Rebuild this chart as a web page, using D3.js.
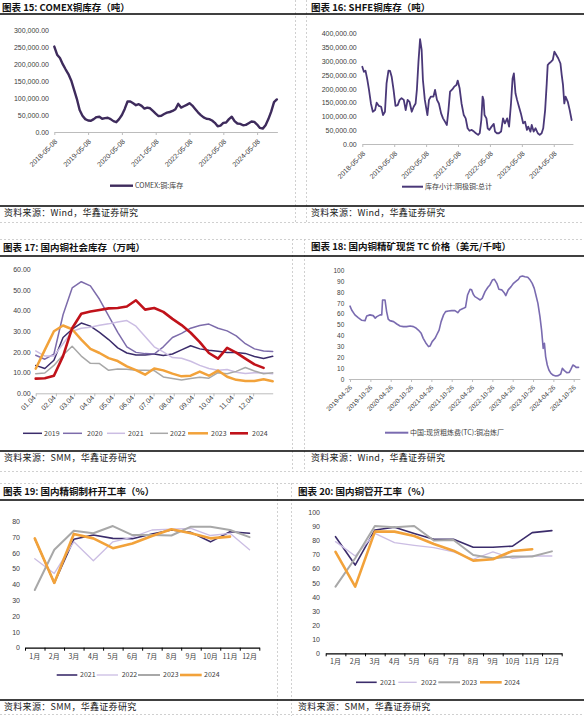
<!DOCTYPE html>
<html><head><meta charset="utf-8">
<script src="https://cdn.jsdelivr.net/npm/d3@7"></script>
<style>body{margin:0;background:#fff}svg{display:block}</style>
</head><body><svg id="c" width="584" height="716"></svg>
<script>
// ================= DATA =================
// 图表15 COMEX 铜库存 (monthly from 2018-05)
const comexTickLabels=["2018-05-08","2019-05-08","2020-05-08","2021-05-08","2022-05-08","2023-05-08","2024-05-08"];
const comexStock=[252000,228000,218000,200000,185000,171000,152000,125000,98000,65000,48000,38000,
 34000,33000,38000,44000,45000,39000,41000,42000,38000,32000,29000,38000,
 50000,68000,90000,90000,85000,79000,82000,77000,69000,72000,70000,62000,
 54000,47000,48000,53000,57000,59000,62000,67000,83000,72000,76000,80000,
 85000,78000,68000,58000,50000,43000,39000,38000,34000,27000,17000,19000,
 27000,28000,38000,45000,32000,25000,24000,20000,21000,26000,31000,30000,
 22000,12000,10000,20000,38000,60000,88000,96000];
// 图表16 SHFE 铜库存 : years since 2018-05-08, tonnes
const shfeTickLabels=["2018-05-08","2019-05-08","2020-05-08","2021-05-08","2022-05-08","2023-05-08","2024-05-08"];
const shfeYears=[0,.05,.10,.16,.21,.27,.33,.40,.45,.52,
 .59,.65,.71,.76,.82,.87,.92,.98,1.04,1.11,
 1.17,1.23,1.30,1.36,1.42,1.48,1.55,1.61,1.67,1.71,
 1.76,1.81,1.86,1.90,1.96,2.04,2.09,2.15,2.23,2.28,
 2.34,2.40,2.47,2.53,2.59,2.65,2.70,2.75,2.82,2.88,
 2.95,2.99,3.05,3.11,3.18,3.24,3.30,3.36,3.43,3.50,
 3.56,3.63,3.68,3.73,3.77,3.80,3.83,3.89,3.93,3.98,
 4.05,4.12,4.16,4.22,4.28,4.35,4.41,4.47,4.54,4.60,
 4.66,4.71,4.75,4.80,4.85,4.91,4.97,5.04,5.10,5.16,
 5.20,5.27,5.31,5.37,5.43,5.50,5.56,5.62,5.67,5.73,
 5.78,5.81,5.85,5.91,5.97,6.02,6.08,6.14,6.21,6.25,
 6.29,6.33,6.37,6.44,6.50,6.56];
const shfeStock=[280000,262000,266000,232000,196000,147000,117000,123000,150000,138000,
 135000,105000,117000,220000,266000,265000,244000,196000,138000,141000,
 160000,166000,160000,123000,160000,153000,117000,135000,147000,196000,
 298000,380000,341000,232000,160000,105000,160000,172000,172000,196000,
 160000,147000,111000,93000,81000,69000,123000,190000,198000,208000,
 214000,230000,202000,147000,105000,93000,57000,48000,51000,45000,
 39000,33000,39000,87000,172000,160000,105000,93000,57000,51000,
 63000,73000,45000,39000,39000,45000,93000,75000,93000,63000,
 147000,238000,256000,184000,160000,135000,111000,75000,81000,51000,
 63000,45000,69000,45000,57000,39000,33000,39000,57000,123000,
 220000,286000,292000,298000,305000,335000,323000,311000,292000,250000,
 214000,147000,172000,153000,123000,87000];
// 图表17 国内铜社会库存 (万吨), every 2 weeks from 01.04
const invTickLabels=["01.04","02.04","03.04","04.04","05.04","06.04","07.04","08.04","09.04","10.04","11.04","12.04"];
const invTickDays=[0,31,59,90,120,151,181,212,243,273,304,334];
const invYears=["2019","2020","2021","2022","2023","2024"];
const inv2019=[13.5,12,16,27,31,34,32.5,29.5,26,22,19.5,18.5,18.5,19,18.3,19,21,23,21.5,20.8,20.3,19.8,19.7,19.3,17.8,16.8,17.9];
const inv2020=[18.4,16.5,19,38,51,54,52,45.5,37.5,29.5,22.5,19.8,19.2,19,22.5,27,29,31.5,32.8,33.5,31.5,30.2,27.8,24,21.5,20.5,20.2];
const inv2021=[20.5,18,18,24,30,31.5,32,32.9,33.6,34.5,35.2,32.5,27.5,22.5,20,17.3,17,15.5,13.5,12,11.2,11.5,10.2,9.6,10,9.8,9.5];
const inv2022=[9.5,9.8,13.5,18.5,22.8,18,14.5,14.4,11.1,11.8,11.6,11.1,11.1,11,7.9,7.2,6.4,7.2,7.8,7.3,10,9.5,10.6,12.5,10.8,9.5,10];
const inv2023=[11.9,21,30,32.8,31,26,21.5,19.5,17,15.6,13,11.2,9,12,11.1,9.5,8.2,8.5,10.5,8.5,11,8,6.5,6,6,6.8,5.8];
const inv2024=[7.1,7.3,8.5,18,31.5,38.5,39.6,40.3,41.1,41.3,42,45,40.5,41.3,39.4,36,33,29.3,24.8,19.5,16.8,22,19.7,16.8,14,12.3];
// 图表18 TC : years since 2019-04-26
const tcTickLabels=["2019-04-26","2019-10-26","2020-04-26","2020-10-26","2021-04-26","2021-10-26","2022-04-26","2022-10-26","2023-04-26","2023-10-26","2024-04-26","2024-10-26"];
const tcYears=[0,.04,.12,.20,.29,.37,.41,.49,.57,.62,
 .66,.74,.78,.80,.86,.90,.94,.98,1.07,1.15,
 1.23,1.31,1.39,1.48,1.56,1.61,1.68,1.75,1.80,1.86,
 1.93,1.97,2.02,2.09,2.13,2.19,2.24,2.30,2.35,2.42,
 2.50,2.58,2.65,2.70,2.79,2.84,2.89,2.95,2.99,3.03,
 3.07,3.14,3.20,3.25,3.32,3.39,3.44,3.50,3.55,3.61,
 3.66,3.73,3.80,3.83,3.89,3.96,4.02,4.07,4.14,4.18,
 4.24,4.30,4.37,4.43,4.48,4.53,4.57,4.62,4.67,4.71,
 4.75,4.78,4.81,4.85,4.89,4.94,5.00,5.06,5.12,5.18,
 5.22,5.27,5.33,5.39,5.43,5.48,5.52,5.56,5.62];
const tcPrice=[67,63.5,59,56.5,54,53.7,58,59,58.3,56,
 57.4,59,59,72.7,72.7,62,55,53.7,52.8,50.6,
 48.8,48.2,48.2,48.8,48.2,47.2,45,42,37.4,33.4,
 29.8,30.4,34.4,37.4,40.5,45,52.8,59,62,62.6,
 62.9,62.9,61,63.5,65,66,77.3,82.5,82,78,
 75.8,74.2,72.7,74.2,80.4,84.4,86.5,91,91.7,88,
 82.5,82,78.8,76.7,82,85,88,89.6,91.7,94,
 94.8,94,93.6,91,88,83.4,77.3,69.6,57.4,45,
 28.2,32.8,20.6,12.9,8.3,5.2,3.4,2.8,3.1,4.6,
 9.8,7.7,5.8,6.1,8.9,12.9,12,10.7,10.7];
// 图表19/20 开工率 (%)
const months=["1月","2月","3月","4月","5月","6月","7月","8月","9月","10月","11月","12月"];
const rateYears=["2021","2022","2023","2024"];
const rod2021=[69,41,68.6,71.3,69.2,69,72,74.5,73,67,73.4,72.4];
const rod2022=[56.3,47,67,55,67,70,74.5,75,75.5,71,72.4,62];
const rod2023=[36.5,62,74,72.4,77,71.3,71.3,71,76.6,76.6,74.5,70];
const rod2024=[69.2,41,72,69.2,63,66,70.7,75,72.4,69.2,70.3];
const tube2021=[82.7,62.6,87.5,89.4,85,80.9,80.9,75.2,75.2,76,85.6,87];
const tube2022=[79.2,69,85,78.5,76.6,75,72,66.7,72,67.4,69,69];
const tube2023=[47.3,67.4,90.3,89.4,90.3,80,80.4,69.7,67.4,68.6,68.6,72.3];
const tube2024=[71.9,47.3,86.3,86.3,83.2,77.5,72.8,65.7,66.7,72.6,73.8];

// ================= STYLE =================
const CJK='"Noto Sans CJK SC","Noto Sans CJK JP",sans-serif';
const NUM='"Liberation Sans",Arial,sans-serif';
const LBL='#404040';
const C={navy:'#3b2c6b',purple:'#7d6cab',lav:'#cbbde3',gray:'#a8a8a8',orange:'#f2a23a',red:'#c0121a',
 comex:'#3e2b5c',shfe:'#4a3878',tc:'#7a6bb0'};

const svg=d3.select('#c');
svg.append('rect').attr('width',584).attr('height',716).attr('fill','#fff');

// frames (dashed)
const fr=svg.append('g').attr('stroke','#c4c4c4').attr('stroke-dasharray','2,2').attr('stroke-width',0.8);
[[295.5,0,295.5,222],[306.5,0,306.5,222],[0,222.5,584,222.5],[0,239.5,584,239.5],
 [292.5,239,292.5,472],[304.5,239,304.5,472],[0,471.5,584,471.5],[0,483.5,584,483.5],
 [277.5,483,277.5,716],[291.5,483,291.5,716],[0,714.5,584,714.5]]
 .forEach(l=>fr.append('line').attr('x1',l[0]).attr('y1',l[1]).attr('x2',l[2]).attr('y2',l[3]));
// solid black rules
const br=svg.append('g').attr('stroke','#000').attr('stroke-width',1.3);
[14,206,256,451,500,700].forEach(y=>br.append('line').attr('x1',0).attr('x2',584).attr('y1',y).attr('y2',y));

function title(x,y,t){svg.append('text').attr('x',x).attr('y',y).attr('font-family',CJK).attr('font-weight',700)
 .attr('font-size',9.5).attr('fill','#111').text(t);}
function source(x,y,t){svg.append('text').attr('x',x).attr('y',y).attr('font-family',CJK)
 .attr('font-size',9).attr('letter-spacing',0.3).attr('fill','#222').text(t);}
title(2,11,"图表 15: COMEX铜库存（吨）");
title(311,11,"图表 16: SHFE铜库存（吨）");
title(3,251,"图表 17: 国内铜社会库存（万吨）");
title(311,250,"图表 18: 国内铜精矿现货 TC 价格（美元/千吨）");
title(3,495,"图表 19: 国内精铜制杆开工率（%）");
title(298,495,"图表 20: 国内铜管开工率（%）");
source(4,216,"资料来源：Wind，华鑫证券研究");
source(311,216,"资料来源：Wind，华鑫证券研究");
source(4,461,"资料来源：SMM，华鑫证券研究");
source(311,461,"资料来源：Wind，华鑫证券研究");
source(4,710,"资料来源：SMM，华鑫证券研究");
source(298,710,"资料来源：SMM，华鑫证券研究");

function yAxis(y,x,ticks,fmt,fs,pad){
 const g=svg.append('g').attr('transform',`translate(${x},0)`)
  .call(d3.axisLeft(y).tickValues(ticks).tickFormat(fmt).tickSize(0).tickPadding(pad));
 g.select('.domain').remove();
 g.selectAll('text').attr('font-family',NUM).attr('font-size',fs).attr('fill',LBL);
 return g;
}
function xAxisRot(x,y,ticks,labels,color,dx,dy,fs){
 const g=svg.append('g').attr('transform',`translate(0,${y})`)
  .call(d3.axisBottom(x).tickValues(ticks).tickFormat((d,i)=>labels[i]).tickSize(3).tickSizeOuter(0));
 g.select('.domain').attr('stroke',color);
 g.selectAll('.tick line').attr('stroke',color);
 g.selectAll('text').attr('font-family',NUM).attr('font-size',fs).attr('fill',LBL)
  .attr('x',0).attr('y',0).attr('dy',0).attr('text-anchor','end')
  .attr('transform',`translate(${dx},${dy}) rotate(-45)`);
 return g;
}
function legendItem(x1,x2,tx,y,color,w,label){
 svg.append('line').attr('x1',x1).attr('x2',x2).attr('y1',y).attr('y2',y).attr('stroke',color).attr('stroke-width',w);
 svg.append('text').attr('x',tx).attr('y',y).attr('dy','0.35em').attr('font-family',CJK).attr('font-size',7)
  .attr('fill',LBL).text(label);
}
function path(data,xf,yf,color,w){
 svg.append('path').datum(data).attr('fill','none').attr('stroke',color).attr('stroke-width',w)
  .attr('stroke-linejoin','round').attr('stroke-linecap','round')
  .attr('d',d3.line().x(xf).y(yf));
}

// ---------- 图表15 ----------
{
 const x=d3.scaleLinear([0,6.6],[54.3,277.4]);
 const y=d3.scaleLinear([0,300000],[132,30.3]);
 yAxis(y,54,d3.range(0,300001,50000),d3.format(',.2f'),7,5);
 xAxisRot(x,132,d3.range(7),comexTickLabels,'#bcbcbc',3,10,7);
 path(comexStock,(d,i)=>x(i/12),d=>y(d),C.comex,2.4);
 legendItem(110,133,135,185.7,C.comex,2.4,"COMEX:铜:库存");
}
// ---------- 图表16 ----------
{
 const x=d3.scaleLinear([0,6.6],[362.3,572.9]);
 const y=d3.scaleLinear([0,400000],[144,33.7]);
 yAxis(y,362.3,d3.range(0,400001,50000),d3.format(',.2f'),7,5.6);
 xAxisRot(x,144,d3.range(7),shfeTickLabels,'#bcbcbc',3,10,7);
 path(shfeStock,(d,i)=>x(shfeYears[i]),d=>y(d),C.shfe,1.8);
 legendItem(402,423,425,186.7,C.shfe,2,"库存小计:阴极铜:总计");
}
// ---------- 图表17 ----------
{
 const x=d3.scaleLinear([0,52],[35.7,272.7]);
 const y=d3.scaleLinear([0,60],[393.3,269.3]);
 yAxis(y,35.7,d3.range(0,61,10),d3.format('.2f'),7,5);
 xAxisRot(x,393.3,invTickDays.map(d=>d/7),invTickLabels,'#bcbcbc',0,5,7);
 const series=[[inv2019,C.navy,1.5],[inv2020,C.purple,1.5],[inv2021,C.lav,1.5],[inv2022,C.gray,1.5],[inv2023,C.orange,2.5],[inv2024,C.red,2.6]];
 series.forEach(s=>path(s[0],(d,i)=>x(i*2),d=>y(d),s[1],s[2]));
 const lp=[[23,42,44],[63,82,87],[107,125,128],[150,168,170],[188,208,211],[230,248,252]];
 invYears.forEach((yr,i)=>legendItem(lp[i][0],lp[i][1],lp[i][2],433.3,series[i][1],series[i][2],yr));
}
// ---------- 图表18 ----------
{
 const x=d3.scaleLinear([-0.04,5.65],[348.4,579.8]);
 const y=d3.scaleLinear([0,100],[379,270.3]);
 yAxis(y,348.3,d3.range(0,101,10),d3.format('d'),6.5,4);
 xAxisRot(x,379,d3.range(0,5.6,0.5),tcTickLabels,'#bcbcbc',2,9,6.5);
 path(tcPrice,(d,i)=>x(tcYears[i]),d=>y(d),C.tc,1.6);
 legendItem(385,408.3,410,432.7,C.tc,2,"中国:现货粗炼费(TC):铜冶炼厂");
}
// ---------- 图表19 / 20 ----------
function rateChart(x0,x1,y0,y1,ymax,ly,series,lp,ylabX,labY){
 const xb=d3.scaleBand(months,[x0,x1]);
 const xl=d3.scaleLinear([0,12],[x0,x1]);
 const y=d3.scaleLinear([0,ymax],[y0,y1]);
 yAxis(y,x0,d3.range(0,ymax+1,10),d3.format('d'),7,x0-ylabX);
 const g=svg.append('g').attr('transform',`translate(0,${y0})`)
  .call(d3.axisBottom(xl).tickValues(d3.range(13)).tickFormat('').tickSize(3).tickSizeOuter(0));
 g.select('.domain').attr('stroke','#000').attr('stroke-width',1.2);
 g.selectAll('.tick line').attr('stroke','#000');
 const gl=svg.append('g').attr('transform',`translate(0,${y0})`)
  .call(d3.axisBottom(xb).tickSize(0).tickPadding(labY));
 gl.select('.domain').remove();
 gl.selectAll('text').attr('font-family',CJK).attr('font-size',7).attr('fill',LBL);
 series.forEach(s=>path(s[0],(d,i)=>xb(months[i])+xb.bandwidth()/2,d=>y(d),s[1],s[2]));
 rateYears.forEach((yr,i)=>legendItem(lp[i][0],lp[i][1],lp[i][2],ly,series[i][1],series[i][2],yr));
}
rateChart(25,259.3,647.7,521.3,80,675,
 [[rod2021,C.navy,1.6],[rod2022,C.lav,1.3],[rod2023,C.gray,2],[rod2024,C.orange,2.6]],
 [[56.7,77.3,80],[96.7,118,121.7],[138,160,163],[180,201.7,204]],20,6);
rateChart(325.7,561.7,653.3,512.3,100,682.3,
 [[tube2021,C.navy,1.6],[tube2022,C.lav,1.3],[tube2023,C.gray,2],[tube2024,C.orange,2.6]],
 [[356,376.7,380],[398.3,416.7,421],[438.3,460,461.7],[480,501.7,504.3]],320,6);
</script></body></html>
